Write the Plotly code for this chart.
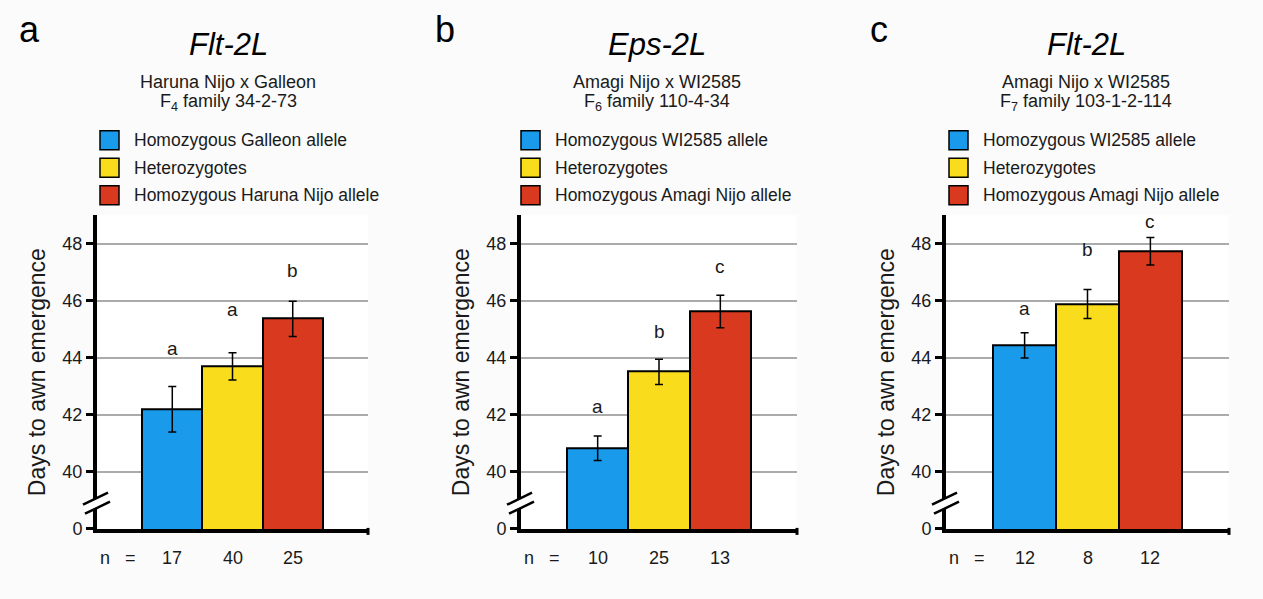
import plotly.graph_objects as go

W, H = 1263, 599

# ---------------- data ----------------
panel_labels = ["a", "b", "c"]
loci = ["Flt-2L", "Eps-2L", "Flt-2L"]
crosses = ["Haruna Nijo x Galleon", "Amagi Nijo x WI2585", "Amagi Nijo x WI2585"]
families = ["F<sub>4</sub> family 34-2-73", "F<sub>6</sub> family 110-4-34",
            "F<sub>7</sub> family 103-1-2-114"]

genotypes_a = ["Homozygous Galleon allele", "Heterozygotes", "Homozygous Haruna Nijo allele"]
genotypes_b = ["Homozygous WI2585 allele", "Heterozygotes", "Homozygous Amagi Nijo allele"]
genotypes_c = ["Homozygous WI2585 allele", "Heterozygotes", "Homozygous Amagi Nijo allele"]

means_a = [42.2, 43.7, 45.37]
means_b = [40.83, 43.51, 45.63]
means_c = [44.44, 45.89, 47.74]

errors_a = [0.8, 0.48, 0.62]
errors_b = [0.43, 0.44, 0.57]
errors_c = [0.44, 0.51, 0.48]

n_a = [17, 40, 25]
n_b = [10, 25, 13]
n_c = [12, 8, 12]

sig_a = ["a", "a", "b"]
sig_b = ["a", "b", "c"]
sig_c = ["a", "b", "c"]

sig_y_a = [44.34, 45.68, 47.06]
sig_y_b = [42.28, 44.94, 47.2]
sig_y_c = [45.74, 47.81, 48.78]

tick_vals = [38, 40, 42, 44, 46, 48]
tick_text = ["0", "40", "42", "44", "46", "48"]
y_axis_title = "Days to awn emergence"

# ---------------- styling / layout ----------------
colors = ["#1a9aea", "#f9dc1b", "#d8391f"]
FONT = "Arial, Liberation Sans, Helvetica, sans-serif"
TXT = "#1a1a1a"

# the captured page comes out vertically compressed by ~588/599, so vertical
# pixel targets are converted with this effective height
H_EFF = 588


def px(x):
    return x / W


def py(y):
    return 1 - y / H_EFF


genotypes = [genotypes_a, genotypes_b, genotypes_c]
means = [means_a, means_b, means_c]
errors = [errors_a, errors_b, errors_c]
ns = [n_a, n_b, n_c]
sigs = [sig_a, sig_b, sig_c]
sig_ys = [sig_y_a, sig_y_b, sig_y_c]

x_domains_px = [(97, 368), (521, 797), (946, 1229)]
y_domain_px = (215, 528)
title_cx = [228, 657, 1086]
letter_x = [29, 445, 879]
legend_sw_x = [100, 521, 949]
legend_rows = [140, 167.5, 195]

fig = go.Figure()
annotations = []
shapes = []


def ann(**kw):
    d = dict(showarrow=False, xanchor="center", yanchor="middle")
    d.update(kw)
    annotations.append(d)


for i in range(3):
    xa = "x" if i == 0 else f"x{i+1}"
    ya = "y" if i == 0 else f"y{i+1}"
    fig.add_trace(go.Bar(
        x=genotypes[i], y=means[i], xaxis=xa, yaxis=ya,
        marker=dict(color=colors, line=dict(color="black", width=2)),
        error_y=dict(type="data", array=errors[i], color="black", thickness=1.5, width=4),
        showlegend=False, width=1,
    ))
    ax_key = "xaxis" if i == 0 else f"xaxis{i+1}"
    ay_key = "yaxis" if i == 0 else f"yaxis{i+1}"
    x0, x1 = x_domains_px[i]
    fig.update_layout(**{
        ax_key: dict(
            domain=[px(x0), px(x1)], anchor=ya, type="category",
            categoryorder="array", categoryarray=genotypes[i],
            range=[-1.25, 3.25], showticklabels=False, ticks="",
            showline=True, linecolor="black", linewidth=3.5, showgrid=False,
            zeroline=False, fixedrange=True,
        ),
        ay_key: dict(
            domain=[py(y_domain_px[1]), py(y_domain_px[0])], anchor=xa,
            range=[38, 49], tickvals=tick_vals, ticktext=tick_text,
            ticks="outside", ticklen=7, tickwidth=2.5, tickcolor="black",
            showline=True, linecolor="black", linewidth=4,
            showgrid=True, gridcolor="#ababab", gridwidth=2, zeroline=False,
            tickfont=dict(size=18, color=TXT, family=FONT),
            title=dict(text=y_axis_title, font=dict(size=23, color=TXT, family=FONT),
                       standoff=11),
            fixedrange=True,
        ),
    })

    # header texts
    ann(text=panel_labels[i], x=px(letter_x[i]), y=py(29), xref="paper", yref="paper",
        font=dict(size=36, color="black", family=FONT))
    ann(text=f"<i>{loci[i]}</i>", x=px(title_cx[i]), y=py(44), xref="paper", yref="paper",
        font=dict(size=31, color="black", family=FONT))
    ann(text=crosses[i], x=px(title_cx[i]), y=py(82), xref="paper", yref="paper",
        font=dict(size=18, color=TXT, family=FONT))
    ann(text=families[i], x=px(title_cx[i]), y=py(102), xref="paper", yref="paper",
        font=dict(size=18, color=TXT, family=FONT))

    # legend
    for k in range(3):
        sx = legend_sw_x[i]
        ry = legend_rows[k]
        shapes.append(dict(type="rect", xref="paper", yref="paper",
                           x0=px(sx), x1=px(sx + 19), y0=py(ry + 9.5), y1=py(ry - 9.5),
                           fillcolor=colors[k], line=dict(color="black", width=1.5)))
        ann(text=genotypes[i][k], x=px(sx + 32), y=py(ry), xref="paper", yref="paper",
            xanchor="left", font=dict(size=17.5, color=TXT, family=FONT))

    # significance letters and n
    for k in range(3):
        ann(text=sigs[i][k], x=genotypes[i][k], y=sig_ys[i][k], xref=xa, yref=ya,
            font=dict(size=19, color=TXT, family=FONT))
        ann(text=str(ns[i][k]), x=genotypes[i][k], y=0, xref=xa, yref=f"{ya} domain",
            yshift=-29.5, font=dict(size=18, color=TXT, family=FONT))
    ann(text="n  &nbsp;=", x=0, y=0, xref=f"{xa} domain", yref=f"{ya} domain",
        xanchor="left", xshift=1, yshift=-29.5, font=dict(size=18, color=TXT, family=FONT))

    # axis break marks
    common = dict(type="line", xref=f"{xa} domain", yref=ya, xsizemode="pixel",
                  ysizemode="pixel", xanchor=0, yanchor=38.9)
    shapes.append(dict(common, x0=-13, y0=-6, x1=12, y1=6, line=dict(color="white", width=8)))
    shapes.append(dict(common, x0=-14, y0=-1.5, x1=11, y1=10.5, line=dict(color="black", width=2.5)))
    shapes.append(dict(common, x0=-12, y0=-10.5, x1=13, y1=1.5, line=dict(color="black", width=2.5)))
    # end tick on x axis
    shapes.append(dict(type="line", xref=f"{xa} domain", yref=f"{ya} domain",
                       ysizemode="pixel", yanchor=0, x0=1, x1=1, y0=1, y1=-6,
                       line=dict(color="black", width=3)))

fig.update_layout(
    width=W, height=H, margin=dict(l=0, r=0, t=0, b=0),
    paper_bgcolor="#fbfbfb", plot_bgcolor="white",
    bargap=0, showlegend=False,
    font=dict(family=FONT, color=TXT),
    annotations=annotations, shapes=shapes,
)

post = (
    "document.documentElement.style.margin='0px';"
    "document.documentElement.style.overflow='hidden';"
    "document.body.style.margin='0px';"
    "document.body.style.overflow='hidden';"
)

fig.write_html("out.html", config={"displayModeBar": False}, post_script=post)
